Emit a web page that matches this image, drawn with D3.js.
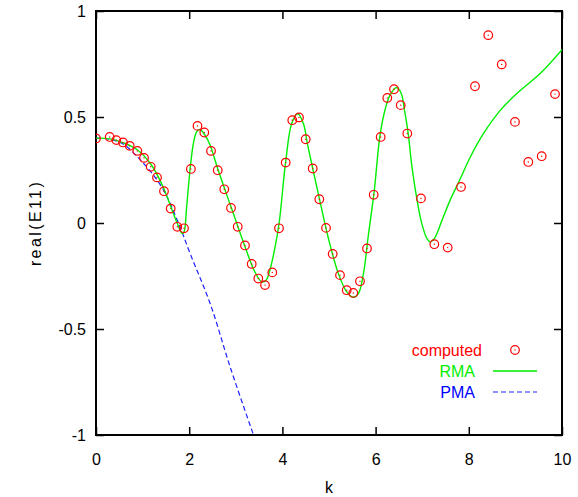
<!DOCTYPE html>
<html>
<head>
    <meta charset="utf-8">
    <script src="https://cdn.jsdelivr.net/npm/d3@7"></script>
    <style>
        body { margin: 0; background: #fff; }
        svg { display: block; font-family: "Liberation Sans", Arial, sans-serif; }
    </style>
</head>
<body>
    <div id="chart"></div>
    <script>
        // computed points (red circles)
        var compK = [0, 0.294, 0.436, 0.579, 0.723, 0.887, 1.03, 1.174, 1.309, 1.459, 1.603, 1.745, 1.888,
            2.036, 2.178, 2.324, 2.468, 2.612, 2.753, 2.897, 3.041, 3.197, 3.341, 3.483, 3.627, 3.783, 3.927,
            4.071, 4.212, 4.356, 4.5, 4.65, 4.792, 4.936, 5.079, 5.236, 5.38, 5.521, 5.665, 5.815, 5.959,
            6.109, 6.251, 6.395, 6.539, 6.68, 6.974, 7.26, 7.547, 7.833, 8.133, 8.418, 8.706, 8.991, 9.277,
            9.564, 9.85];
        var compVal = [0.399, 0.406, 0.391, 0.38, 0.364, 0.34, 0.307, 0.265, 0.215, 0.15, 0.068, -0.018, -0.025,
            0.255, 0.458, 0.427, 0.34, 0.249, 0.159, 0.071, -0.018, -0.106, -0.193, -0.262, -0.293, -0.233, -0.025,
            0.285, 0.485, 0.498, 0.395, 0.257, 0.112, -0.023, -0.146, -0.246, -0.317, -0.33, -0.275, -0.12, 0.133,
            0.406, 0.59, 0.631, 0.556, 0.422, 0.116, -0.1, -0.116, 0.17, 0.645, 0.886, 0.748, 0.477, 0.288,
            0.315, 0.608];

        // RMA curve (green)
        var rmaK = [0, 0.3, 0.6, 0.9, 1.2, 1.45, 1.6, 1.75, 1.85, 1.89, 1.945, 2.017, 2.09, 2.16, 2.23, 2.34,
            2.45, 2.61, 2.91, 3.2, 3.41, 3.56, 3.65, 3.73, 3.83, 3.93, 4.07, 4.2, 4.33, 4.45, 4.55, 4.77, 4.98,
            5.2, 5.38, 5.52, 5.63, 5.74, 5.84, 5.97, 6.09, 6.2, 6.31, 6.45, 6.55, 6.62, 6.7, 6.78, 6.89, 6.99,
            7.1, 7.17, 7.27, 7.42, 7.6, 7.81, 8.03, 8.31, 8.67, 9.03, 9.53, 10];
        var rmaVal = [0.4, 0.397, 0.377, 0.343, 0.27, 0.165, 0.08, -0.005, -0.05, -0.042, 0.076, 0.249, 0.375, 0.43, 0.441, 0.414,
            0.367, 0.257, 0.068, -0.113, -0.231, -0.278, -0.27, -0.223, -0.128, 0.0, 0.288, 0.469, 0.515, 0.469, 0.359, 0.139, -0.066,
            -0.238, -0.325, -0.35, -0.333, -0.238, -0.066, 0.15, 0.406, 0.532, 0.603, 0.639, 0.611, 0.532, 0.422, 0.265, 0.108, -0.002,
            -0.073, -0.089, -0.07, 0.01, 0.108, 0.205, 0.31, 0.42, 0.53, 0.611, 0.705, 0.818];

        // PMA curve (blue dashed)
        var pmaK = [0, 0.3, 0.6, 0.9, 1.2, 1.47, 1.76, 2.02, 2.45, 2.88, 3.38];
        var pmaVal = [0.4, 0.395, 0.37, 0.31, 0.235, 0.147, 0.005, -0.144, -0.38, -0.68, -1.0];

        var xTicks = [0, 2, 4, 6, 8, 10];
        var yTicks = [-1, -0.5, 0, 0.5, 1];

        var width = 578, height = 497;
        var margin = { top: 11, right: 16, bottom: 62, left: 96 };
        var W = width - margin.left - margin.right;
        var H = height - margin.top - margin.bottom;

        var svg = d3.select("#chart").append("svg")
            .attr("width", width)
            .attr("height", height);

        var g = svg.append("g")
            .attr("transform", "translate(" + margin.left + "," + margin.top + ")");

        var x = d3.scaleLinear().domain([0, 10]).range([0, W]);
        var y = d3.scaleLinear().domain([-1, 1]).range([H, 0]);

        g.append("clipPath").attr("id", "clip")
            .append("rect").attr("width", W).attr("height", H);

        // axes with inward ticks
        var xAxis = g.append("g")
            .attr("transform", "translate(0," + H + ")")
            .call(d3.axisBottom(x).tickValues(xTicks).tickSize(-8).tickPadding(19).tickFormat(d3.format("d")));
        var xTop = g.append("g")
            .call(d3.axisTop(x).tickValues(xTicks).tickSize(-8).tickFormat(""));
        var yAxis = g.append("g")
            .call(d3.axisLeft(y).tickValues(yTicks).tickSize(-8).tickPadding(10).tickFormat(function (d) { return d === 0 ? "0" : String(d); }));
        var yRight = g.append("g")
            .attr("transform", "translate(" + W + ",0)")
            .call(d3.axisRight(y).tickValues(yTicks).tickSize(-8).tickFormat(""));

        [xAxis, xTop, yAxis, yRight].forEach(function (a) {
            a.select(".domain").remove();
            a.selectAll(".tick line").attr("stroke", "#000").attr("stroke-width", 1.5);
            a.selectAll("text").attr("font-size", 16).attr("fill", "#000")
                .attr("font-family", "Liberation Sans, Arial, sans-serif");
        });

        // border
        g.append("rect")
            .attr("width", W).attr("height", H)
            .attr("fill", "none").attr("stroke", "#000").attr("stroke-width", 2);

        // axis titles
        svg.append("text")
            .attr("x", margin.left + W / 2).attr("y", 493)
            .attr("text-anchor", "middle").attr("font-size", 16)
            .text("k");
        svg.append("text")
            .attr("transform", "translate(41," + 223 + ") rotate(-90)")
            .attr("text-anchor", "middle").attr("font-size", 16)
            .attr("letter-spacing", 2.4)
            .text("real(E11)");

        var plot = g.append("g").attr("clip-path", "url(#clip)");

        var line = d3.line()
            .x(function (d) { return x(d[0]); })
            .y(function (d) { return y(d[1]); });

        plot.append("path")
            .datum(d3.zip(pmaK, pmaVal))
            .attr("fill", "none").attr("stroke", "#2020ff").attr("stroke-width", 1.2)
            .attr("stroke-dasharray", "5,3")
            .attr("d", line.curve(d3.curveCatmullRom));

        plot.append("path")
            .datum(d3.zip(rmaK, rmaVal))
            .attr("fill", "none").attr("stroke", "#00ee00").attr("stroke-width", 1.4)
            .attr("d", line.curve(d3.curveCatmullRom));

        var pts = plot.selectAll(".pt")
            .data(d3.zip(compK, compVal))
            .enter().append("g")
            .attr("class", "pt")
            .attr("transform", function (d) { return "translate(" + x(d[0]) + "," + y(d[1]) + ")"; });
        pts.append("circle").attr("r", 4.3)
            .attr("fill", "none").attr("stroke", "#ff0000").attr("stroke-width", 1.2);
        pts.append("circle").attr("r", 0.7).attr("fill", "#ff0000");

        // legend
        var legend = svg.append("g");
        var lx = [482, 475, 475], ly = [350, 371, 392];
        var labels = ["computed", "RMA", "PMA"];
        var colors = ["#ff0000", "#00ee00", "#0000ff"];
        labels.forEach(function (t, i) {
            legend.append("text")
                .attr("x", lx[i]).attr("y", ly[i]).attr("dy", "0.35em")
                .attr("text-anchor", "end").attr("font-size", 16)
                .attr("fill", colors[i]).text(t);
        });
        legend.append("circle").attr("cx", 515).attr("cy", ly[0]).attr("r", 4.3)
            .attr("fill", "none").attr("stroke", "#ff0000").attr("stroke-width", 1.2);
        legend.append("circle").attr("cx", 515).attr("cy", ly[0]).attr("r", 0.7).attr("fill", "#ff0000");
        legend.append("line").attr("x1", 493).attr("x2", 537).attr("y1", ly[1]).attr("y2", ly[1])
            .attr("stroke", "#00ee00").attr("stroke-width", 1.4);
        legend.append("line").attr("x1", 493).attr("x2", 537).attr("y1", ly[2]).attr("y2", ly[2])
            .attr("stroke", "#2020ff").attr("stroke-width", 1.2).attr("stroke-dasharray", "5,3");
    </script>
</body>
</html>
